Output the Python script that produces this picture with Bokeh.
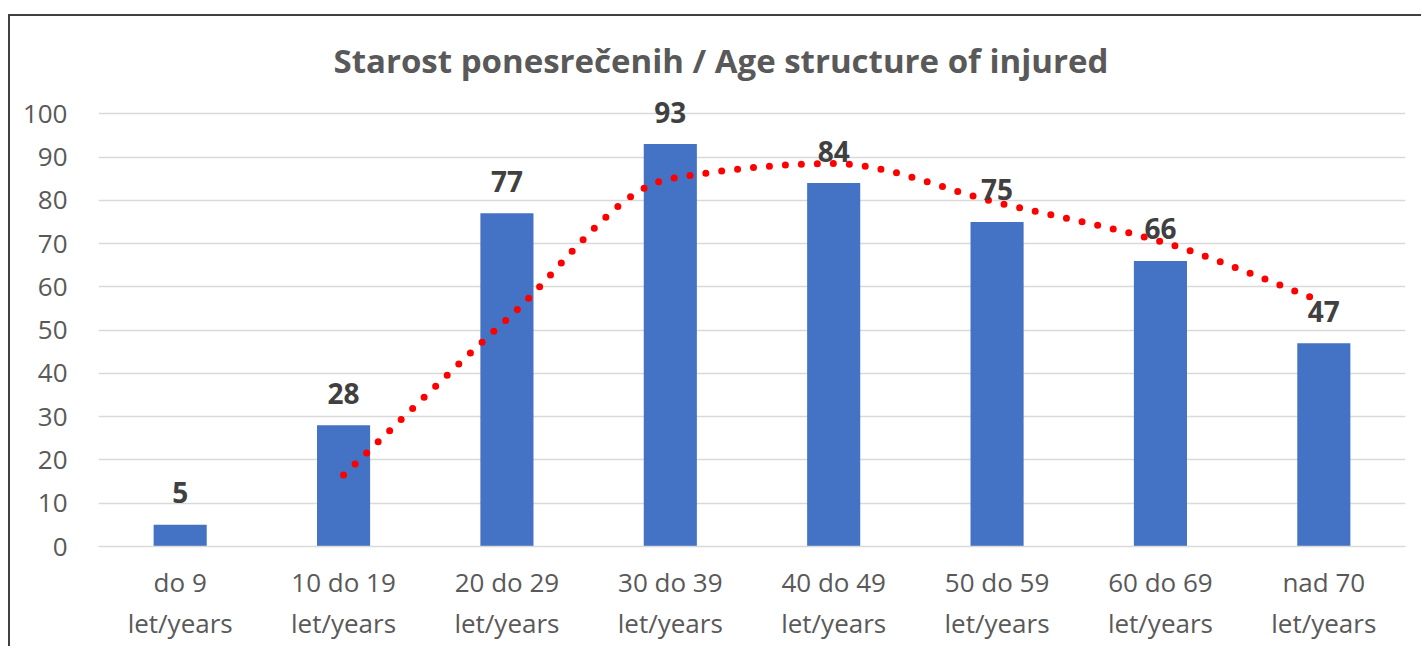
import numpy as np
from bokeh.plotting import figure
from bokeh.models import ColumnDataSource, FixedTicker
from bokeh.core.properties import value
from bokeh.embed import file_html
from bokeh.resources import INLINE

categories = ["do 9\nlet/years", "10 do 19\nlet/years", "20 do 29\nlet/years", "30 do 39\nlet/years",
              "40 do 49\nlet/years", "50 do 59\nlet/years", "60 do 69\nlet/years", "nad 70\nlet/years"]
counts = [5, 28, 77, 93, 84, 75, 66, 47]
y_ticks = [0, 10, 20, 30, 40, 50, 60, 70, 80, 90, 100]
title_text = "Starost ponesrečenih / Age structure of injured"

FONT = "Open Sans"
GREY = "#595959"

xs = [i + 0.5 for i in range(len(categories))]

# 2-period moving average trendline
ma_x = np.array(xs[1:], dtype=float)
ma_y = np.array([(counts[i - 1] + counts[i]) / 2 for i in range(1, len(counts))], dtype=float)

# smooth rendering of the trendline (monotone cubic Hermite)
h = np.diff(ma_x)
d = np.diff(ma_y) / h
m = np.zeros_like(ma_y)
for k in range(1, len(ma_y) - 1):
    if d[k - 1] * d[k] > 0:
        m[k] = 2 / (1 / d[k - 1] + 1 / d[k])
m[0] = d[0]
m[-1] = d[-1]
curve_x, curve_y = [], []
for k in range(len(ma_x) - 1):
    for t in np.linspace(0, 1, 40, endpoint=(k == len(ma_x) - 2)):
        h00 = 2 * t**3 - 3 * t**2 + 1
        h10 = t**3 - 2 * t**2 + t
        h01 = -2 * t**3 + 3 * t**2
        h11 = t**3 - t**2
        curve_x.append(ma_x[k] + t * h[k])
        curve_y.append(h00 * ma_y[k] + h10 * h[k] * m[k] + h01 * ma_y[k + 1] + h11 * h[k] * m[k + 1])

p = figure(frame_width=1307, frame_height=450, x_range=(0, 8), y_range=(0, 104),
           output_backend="svg", toolbar_location=None,
           min_border_left=88, min_border_right=16, min_border_top=80, min_border_bottom=100)
p.styles = {"border-left": "2px solid #404040", "border-top": "2px solid #404040",
            "margin-top": "14px", "margin-left": "8px"}
p.outline_line_color = None
p.background_fill_color = "white"
p.border_fill_color = "white"

p.title.text = title_text
p.title.align = "left"
p.title.offset = 235
p.title.text_font = FONT
p.title.text_font_style = "bold"
p.title.text_font_size = "33px"
p.title.text_color = GREY
p.title.standoff = 28

p.xgrid.grid_line_color = None
p.ygrid.grid_line_color = "#d9d9d9"
p.ygrid.grid_line_width = 1.3

src = ColumnDataSource(dict(x=xs, top=counts, label=[str(c) for c in counts]))
p.vbar(x="x", top="top", width=0.325, source=src, fill_color="#4472c4", line_color=None)

p.line(curve_x, curve_y, line_color="#ff0000", line_width=7, line_dash="0 16", line_cap="round")

p.text(x="x", y="top", text="label", source=src, text_align="center", text_baseline="alphabetic",
       y_offset=-32, text_font=value(FONT), text_font_style="bold", text_font_size="28px",
       text_color="#404040")

p.yaxis.ticker = FixedTicker(ticks=y_ticks)
p.yaxis.axis_line_color = None
p.yaxis.major_tick_line_color = None
p.yaxis.minor_tick_line_color = None
p.yaxis.major_label_standoff = 25
p.yaxis.major_label_text_font = FONT
p.yaxis.major_label_text_font_size = "26px"
p.yaxis.major_label_text_color = GREY

p.xaxis.ticker = FixedTicker(ticks=xs)
p.xaxis.major_label_overrides = {x: c for x, c in zip(xs, categories)}
p.xaxis.axis_line_color = "#d9d9d9"
p.xaxis.axis_line_width = 1.3
p.xaxis.major_tick_line_color = None
p.xaxis.minor_tick_line_color = None
p.xaxis.major_label_standoff = 11
p.xaxis.major_label_text_font = FONT
p.xaxis.major_label_text_font_size = "26px"
p.xaxis.major_label_text_line_height = 1.15
p.xaxis.major_label_text_color = GREY

open("out.html", "w").write(file_html(p, INLINE))
